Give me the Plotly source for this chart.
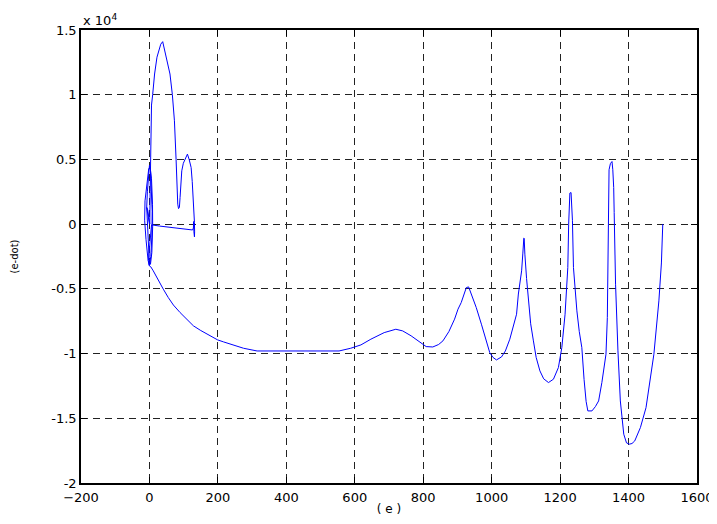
import plotly.graph_objects as go

# phase trajectory: e (x) and e-dot (y)
e_vals = [0, -5, -8, -6, -3, 0, 3, 6, 8, 7, 4, 0, -4, -10, -14, -13, -8, -2, 2, 6, 9, 9.4, 7, 3, -1, -4, -7, -8, -5, -2, 1,
          2, 3, 3.5, 6, 9.4, 15, 22, 28.8, 33, 38.7, 43, 48.4, 55, 60, 67, 73, 77.8, 80, 82.7, 85, 87.5, 89.5, 92, 94.5,
          99, 104, 108, 111, 116, 121.8, 125, 128.6, 131.5, 132, 131.5, 130, 129, 128.5, 126, 100, 60, 30, 6,
          3, 0, -3, -1, 4, 11.2, 25, 40.5, 55, 70, 89.5, 110, 128.6, 150, 168, 199, 216.6, 245, 275, 314.6, 400, 500,
          554, 588, 618, 647, 686, 720, 740, 764.6, 790, 808.6, 828, 845, 857.6, 875, 891.6, 901.6, 911, 918, 926,
          932.7, 940.7, 955, 970, 985, 994.4, 1004, 1014, 1028.7, 1040, 1053, 1064, 1072.7, 1078, 1083, 1087.5,
          1091, 1092.4, 1094, 1095, 1095.5, 1097, 1102, 1107, 1114, 1122, 1130, 1141, 1152, 1166, 1180.5, 1195,
          1205, 1214.5, 1222.5, 1225, 1227, 1228.5, 1232, 1234, 1236, 1239, 1244, 1249, 1256, 1263.5, 1270, 1276,
          1281, 1293, 1303, 1312.5, 1322, 1334, 1338, 1340, 1341, 1342, 1343, 1347, 1351.6, 1354, 1356.6, 1358,
          1360, 1362, 1369, 1376, 1386, 1394, 1402.3, 1410, 1418, 1434.6, 1451, 1462, 1474, 1488.6, 1496, 1500]
edot_vals = [0, 800, 1300, 2500, 3800, 4550, 4200, 2800, 1000, -1000, -2500, -3200, -2800, -1200, 300, 1800, 3200,
             4300, 4400, 3500, 1500, -200, -2200, -3100, -2600, -1200, 400, 1300, 1100, 500, 0,
             2500, 5500, 7700, 9200, 10000, 11600, 12900, 13530, 13900, 14100, 13600, 12880, 12300, 11600, 10000,
             7985, 5020, 3200, 1546, 1200, 1280, 2056, 3200, 4120, 4700, 5020, 5300, 5410, 5000, 4375, 3300, 1800,
             124, -600, -980, -600, 200, -300, -450, -380, -250, -150, -54,
             -800, -2000, -2800, -3200, -3300, -3610, -4300, -5025, -5670, -6250, -6830, -7400, -7860, -8220, -8500,
             -8940, -9100, -9360, -9590, -9800, -9800, -9800, -9800, -9590, -9330, -8890, -8380, -8120, -8250, -8630,
             -9100, -9460, -9490, -9300, -9020, -8300, -7340, -6570, -6060, -5500, -4900, -4850, -5410, -6450, -7730,
             -9100, -9930, -10300, -10490, -10260, -9800, -8890, -7800, -6960, -5400, -4400, -3610, -2300, -1160,
             -1080, -1100, -1700, -2320, -4200, -5930, -7700, -9020, -10300, -11340, -11950, -12240, -11980, -11080,
             -9540, -6960, -3350, 0, 1500, 2400, 2440, 1500, 300, -3350, -5200, -6700, -8300, -9540, -12000, -13700,
             -14430, -14430, -14100, -13660, -12240, -10050, -7220, -3350, 0, 3000, 4200, 4680, 4840, 4200, 2830, 900,
             -2000, -4640, -9790, -13660, -16230, -16900, -17000, -16950, -16750, -15720, -14180, -12300, -10050,
             -5930, -3000, 0]

x_ticks = [-200, 0, 200, 400, 600, 800, 1000, 1200, 1400, 1600]
y_ticks = [-20000, -15000, -10000, -5000, 0, 5000, 10000, 15000]
y_tick_text = ["-2", "-1.5", "-1", "-0.5", "0", "0.5", "1", "1.5"]

font = "DejaVu Sans, Liberation Sans, Arial, sans-serif"

fig = go.Figure()
fig.add_trace(go.Scatter(x=e_vals, y=edot_vals, mode="lines",
                         line=dict(color="#0000ff", width=1), showlegend=False))

axis_common = dict(showline=True, linecolor="black", linewidth=1.5, mirror="ticks",
                   ticks="inside", ticklen=6, tickcolor="black",
                   showgrid=True, gridcolor="#222222", gridwidth=1, griddash="7px,5px",
                   zeroline=False, automargin=False,
                   tickfont=dict(family=font, size=13, color="black"))

fig.update_xaxes(range=[-200, 1600], tickvals=x_ticks, **axis_common, ticklabelstandoff=2,
                 title=dict(text="( e )", font=dict(family=font, size=12, color="black"), standoff=0))
fig.update_yaxes(range=[-20000, 15000], tickvals=y_ticks, ticktext=y_tick_text, **axis_common,
                 title=dict(text="(e-dot)", font=dict(family=font, size=10, color="black"), standoff=31))

fig.add_annotation(x=0, y=1, xref="paper", yref="paper", xanchor="left", yanchor="bottom",
                   text="x 10<sup>4</sup>", showarrow=False, yshift=0,
                   font=dict(family=font, size=13, color="black"))

# the page body adds an 8px offset; size/margins compensate so the axes land where the reference has them
fig.update_layout(width=709, height=516, paper_bgcolor="white", plot_bgcolor="white",
                  margin=dict(l=73, r=20, t=22, b=41),
                  font=dict(family=font, color="black"))

fig.write_html("out.html")
